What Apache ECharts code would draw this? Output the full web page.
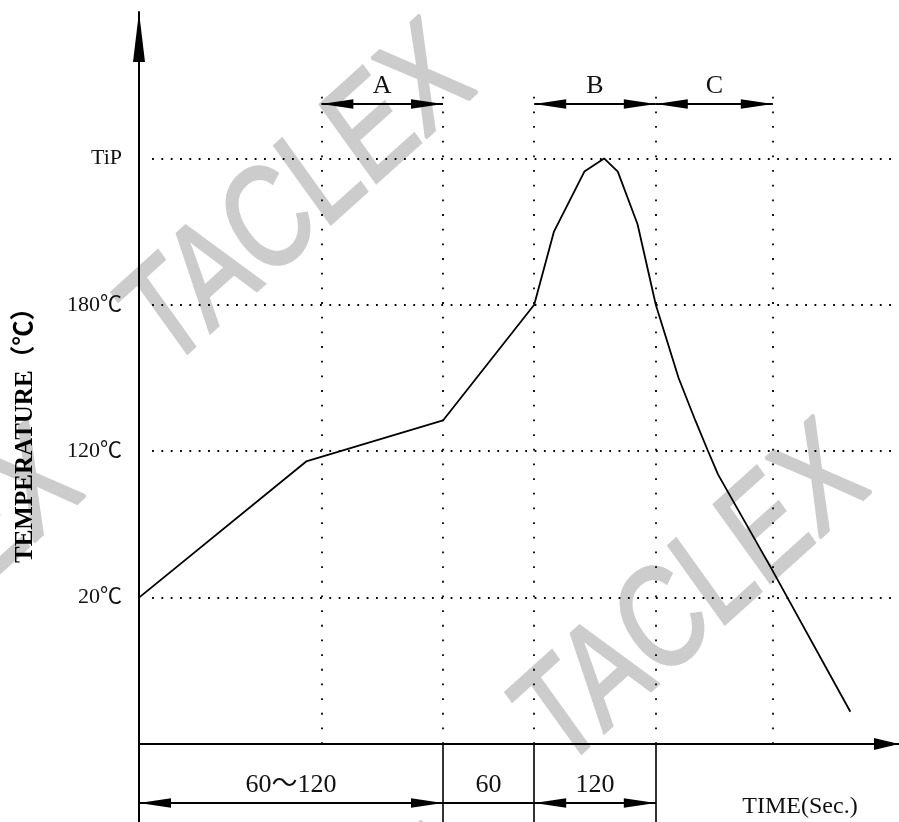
<!DOCTYPE html>
<html><head><meta charset="utf-8">
<script src="https://cdn.jsdelivr.net/npm/echarts@6/dist/echarts.min.js"></script>
<style>html,body{margin:0;padding:0;background:#fff}#c{width:899px;height:822px}</style>
</head><body><div id="c"></div>
<script>
// Schematic reflow profile: x in schematic seconds, y in temperature "levels" (1=20℃, 2=120℃, 3=180℃, 4=TiP)
const timeSec   = [0, 55, 100, 130, 136.5, 146.5, 153, 157.5, 164, 170, 177.5, 183, 187, 190.5, 208, 234];
const tempLevel = [1.0, 1.93, 2.21, 3.0, 3.5, 3.91, 4.0, 3.91, 3.55, 3.0, 2.5, 2.21, 2.01, 1.84, 1.2, 0.22];
const tempLevels = [1, 2, 3, 4];
const tempTickLabels = ['20℃', '120℃', '180℃', 'TiP'];
const guideTimes = [60, 100, 130, 170, 208.5];
const zoneNames = ['A', 'B', 'C'];
const zoneFrom = [60, 130, 170];
const zoneTo = [100, 170, 208.5];
const stageNames = ['60～120', '60', '120'];
const stageFrom = [0, 100, 130];
const stageTo = [100, 130, 170];
const stageArrows = [true, false, true];
const stageBounds = [100, 130, 170];
const xTitle = 'TIME(Sec.)';
const yTitle = 'TEMPERATURE（℃）';
const watermark = 'TACLEX';

const SERIF = "'Liberation Serif','Noto Sans CJK SC',serif";
const ZONE_LEVEL = 4.372;
const STAGE_LEVEL = -0.403;
const arrowEnd = { symbol: 'triangle', symbolSize: [9.4, 32], symbolOffset: [0, 16] };
const noEnd = { symbol: 'none' };

const chart = echarts.init(document.getElementById('c'), null, { renderer: 'canvas' });

const wmPos = [[300, 200], [694, 600], [-92, 604], [302, 1006]];

const option = {
  animation: false,
  backgroundColor: '#fff',
  grid: { left: 139, right: 0, top: 12, bottom: -68.4, containLabel: false, outerBoundsMode: 'none' },
  graphic: wmPos.map(p => ({
    type: 'group', x: p[0], y: p[1], scaleY: 1.12, z: -1, silent: true,
    children: [{
      type: 'text', x: 0, y: 0, rotation: 38.8 * Math.PI / 180, scaleX: 0.81, z: -1, silent: true,
      style: { text: watermark, fill: '#cccccc', stroke: '#cccccc', lineWidth: 3,
        font: '130px "Liberation Sans", Arial, sans-serif',
        textAlign: 'center', textVerticalAlign: 'middle', align: 'center', verticalAlign: 'middle' }
    }]
  })),
  xAxis: {
    type: 'value', min: 0, max: 250,
    axisLine: { show: true, onZero: true, lineStyle: { color: '#000', width: 2 },
      symbol: ['none', 'triangle'], symbolSize: [12, 25], symbolOffset: [0, -12.5] },
    axisTick: { show: false }, axisLabel: { show: false }, splitLine: { show: false },
    name: xTitle, nameLocation: 'end', nameGap: -99, nameMoveOverlap: false,
    nameTextStyle: { fontFamily: SERIF, fontSize: 24, color: '#111', align: 'center', verticalAlign: 'top', padding: [51, 0, 0, 0] }
  },
  yAxis: {
    type: 'value', min: -1, max: 5, interval: 1,
    axisLine: { show: true, onZero: false, lineStyle: { color: '#000', width: 2 },
      symbol: ['none', 'triangle'], symbolSize: [12, 50], symbolOffset: [0, -25] },
    axisTick: { show: false }, splitLine: { show: false },
    axisLabel: {
      margin: 17, fontFamily: SERIF, fontSize: 22, color: '#111',
      formatter: v => { const i = tempLevels.indexOf(v); return i >= 0 ? tempTickLabels[i] : ''; }
    },
    name: yTitle, nameLocation: 'middle', nameGap: 101, nameMoveOverlap: false,
    nameTextStyle: { fontFamily: SERIF, fontWeight: 'bold', fontSize: 25, color: '#000', padding: [0, 0, 0, 44] }
  },
  series: [
    {
      type: 'line', name: 'profile', z: 5, clip: false, silent: true,
      data: timeSec.map((t, i) => [t, tempLevel[i]]),
      symbol: 'none', showSymbol: false,
      lineStyle: { color: '#000', width: 1.8 }
    },
    {
      type: 'line', name: 'grid', data: [], z: 3, silent: true,
      markLine: {
        silent: true, symbol: 'none', animation: false, label: { show: false },
        data: [
          ...tempLevels.map(v => [
            { coord: [4.3, v], lineStyle: { color: '#000', width: 1.8, type: [1.8, 7.53] } },
            { coord: [248, v] }
          ]),
          ...guideTimes.map(t => [
            { coord: [t, 0], lineStyle: { color: '#000', width: 1.8, type: [1.8, 12.87] } },
            { coord: [t, 4.5] }
          ])
        ]
      }
    },
    {
      type: 'line', name: 'zones', data: [], z: 4, silent: true,
      markLine: {
        silent: true, animation: false,
        lineStyle: { color: '#000', width: 2, type: 'solid' },
        label: { show: true, position: 'middle', formatter: '{b}', fontFamily: SERIF, fontSize: 26, color: '#111', distance: 5 },
        data: [
          ...zoneNames.map((n, i) => [
            Object.assign({ coord: [zoneFrom[i], ZONE_LEVEL], name: n }, arrowEnd),
            Object.assign({ coord: [zoneTo[i], ZONE_LEVEL] }, arrowEnd)
          ]),
          ...stageNames.map((n, i) => [
            Object.assign({ coord: [stageFrom[i], STAGE_LEVEL], name: n }, stageArrows[i] ? arrowEnd : noEnd),
            Object.assign({ coord: [stageTo[i], STAGE_LEVEL] }, stageArrows[i] ? arrowEnd : noEnd)
          ]),
          ...stageBounds.map(t => [
            { coord: [t, 0], symbol: 'none', lineStyle: { width: 1.6 }, label: { show: false } },
            { coord: [t, -1], symbol: 'none' }
          ])
        ]
      }
    }
  ]
};
chart.setOption(option);
</script>
</body></html>
